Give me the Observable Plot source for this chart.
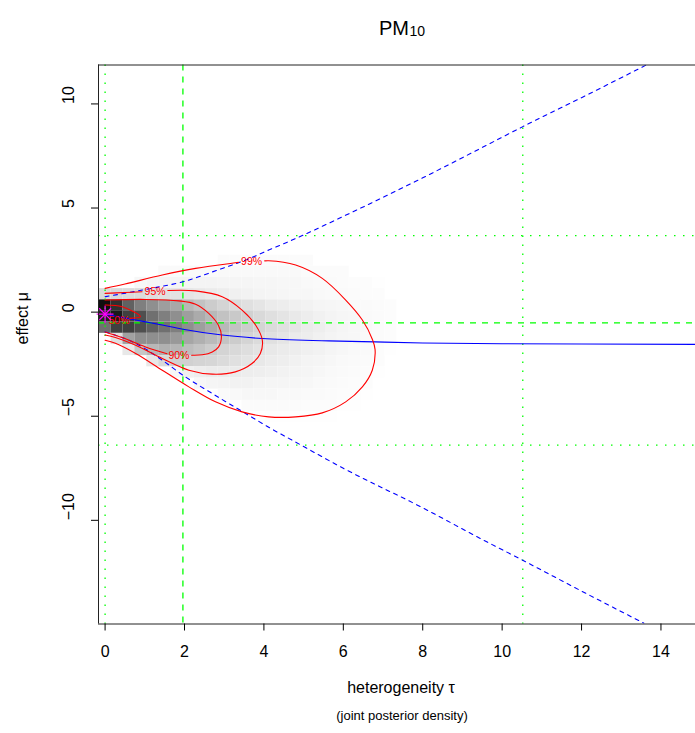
<!DOCTYPE html>
<html><head><meta charset="utf-8">
<script src="https://cdn.jsdelivr.net/npm/d3@7"></script>
<script src="https://cdn.jsdelivr.net/npm/@observablehq/plot@0.6"></script>
<style>body{margin:0;background:#fff} #chart svg{display:block}</style>
</head><body><div id="chart"></div>
<script>
// ---------- data ----------
const xTicks = [0, 2, 4, 6, 8, 10, 12, 14];
const yTicks = [-10, -5, 0, 5, 10];
const xDomain = [-0.166, 14.87];
const yDomain = [-14.98, 11.87];

// density image grid (cell centres) and grey lightness (% white)
const tauCenters = [0, 0.3, 0.6, 0.9, 1.2, 1.5, 1.8, 2.1, 2.4, 2.7, 3.0, 3.3, 3.6, 3.9, 4.2, 4.5, 4.8, 5.1, 5.4, 5.7, 6.0, 6.3, 6.6, 6.9, 7.2];
const muCenters = [2.47, 1.94, 1.40, 0.86, 0.32, -0.21, -0.75, -1.29, -1.82, -2.36, -2.90, -3.43, -3.97, -4.51, -5.05];
const tauStep = 0.3, muStep = 0.537;
const lightness = [
  [100,100,100,100,100,100,100,100,100,100,98.5,98.5,98.5,98.5,98.5,98.5,98.5,98.5,100,100,100,100,100,100,100],
  [100,100,100,100,100,98,98,98,98,98,97.5,97.5,97.5,97.5,97.5,97.5,97.5,98.5,98.5,98.5,98.5,100,100,100,100],
  [100,100,100,97,96,95.5,95.5,95.5,95.5,95.5,96,96,96,96.5,96.5,97,97,97.5,98,98,98.5,99,99,99.5,100],
  [85,85,86,86,87,88,89,90,91,92,93,94,95,95.5,96,96.5,97,97,97.5,98,98,98.5,99,99,100],
  [6,19,38,50,56,62,66,72,76,80,83,86,88,90,92,93,94,95,96,96.5,97,97.5,98,98.5,99],
  [13,10,25,31,44,50,56,62,67,72,76,79,82,85,87.5,89.5,91.5,93,94.5,95.5,96.5,97,98,98.5,99],
  [44,25,25,31,38,44,50,56,62,67,72,76,80,83,86,88,90,92,93.5,95,96,97,97.5,98.5,99],
  [100,88,63,56,56,56,60,65,69,73,77,80,83,86,88,90,92,93,94.5,95.5,96.5,97,98,98.5,99],
  [100,100,91,78,72,69,71,74,77,80,83,85,87,89,91,92,93,94,95,96,97,97.5,98,99,99.5],
  [100,100,100,100,91,85,82,82,83,84,86,88,89.5,91,92.5,93.5,94.5,95.5,96,97,97.5,98,98.5,99,100],
  [100,100,100,100,100,100,97,94,93,92,92,92,93,93.5,94,95,95.5,96,97,97.5,98,98.5,99,99.5,100],
  [100,100,100,100,100,100,100,100,97,96,95.5,95,95,95.5,96,96,96.5,97,97.5,98,98.5,99,99,100,100],
  [100,100,100,100,100,100,100,100,100,100,98,97.5,97,97,97,97.5,97.5,98,98,98.5,99,99,99.5,100,100],
  [100,100,100,100,100,100,100,100,100,100,100,100,98.5,98.5,98.5,98.5,98.5,99,99,99,99.5,99.5,100,100,100],
  [100,100,100,100,100,100,100,100,100,100,100,100,100,100,99.5,99.5,99.5,99.5,99.5,99.5,100,100,100,100,100]
];

// conditional mean of mu given tau (blue solid) and 95% bounds (blue dashed)
const meanTau = [0, 0.77, 1.44, 1.96, 2.95, 3.96, 5.63, 6.81, 8, 10, 12, 15];
const meanMu  = [-0.1, -0.38, -0.62, -0.82, -1.1, -1.27, -1.38, -1.43, -1.48, -1.52, -1.53, -1.55];
const upperTau = [0, 1.02, 1.96, 2.95, 3.54, 4.12, 4.71, 6, 8, 9.46, 10.52, 12, 13.63];
const upperMu  = [0.74, 1.09, 1.46, 2.1, 2.5, 2.98, 3.46, 4.6, 6.45, 7.87, 8.91, 10.3, 11.87];
const lowerTau = [0, 0.77, 1.44, 1.96, 2.7, 3.54, 4.25, 4.71, 6, 8, 9.54, 10.52, 12, 13.57];
const lowerMu  = [-0.95, -1.5, -2.31, -3.03, -3.91, -4.87, -5.67, -6.15, -7.5, -9.4, -10.96, -11.92, -13.4, -14.94];

// green reference lines
const vDotted = [0, 10.52];
const vDashed = [1.96];
const hDotted = [3.67, -6.39];
const hDashed = [-0.52];

// contours (null = gap for the label)
const c99 = [[0,1.14],[0.5,1.35],[1.44,1.78],[2.28,2.1],[3.28,2.37],[3.36,2.39],[null,null],[4.02,2.46],[4.12,2.47],[4.8,2.26],[5.47,1.62],[6.06,0.58],[6.48,-0.38],[6.73,-1.3],[6.8,-1.8],[6.73,-2.79],[6.48,-3.59],[6.06,-4.31],[5.47,-4.84],[4.8,-5.03],[4.12,-5.03],[3.45,-4.79],[2.78,-4.31],[2.11,-3.59],[1.44,-2.79],[0.77,-1.99],[0.26,-1.5],[0,-1.35]];
const c95 = [[0,0.9],[0.5,0.94],[0.93,0.98],[null,null],[1.58,1.04],[2.28,1.02],[2.95,0.74],[3.45,0.1],[3.79,-0.62],[3.96,-1.35],[3.91,-1.99],[3.7,-2.47],[3.28,-2.87],[2.7,-2.98],[2.11,-2.79],[1.44,-2.23],[0.77,-1.59],[0.26,-1.22],[0,-1.1]];
const c90 = [[0,0.58],[1.02,0.61],[1.86,0.54],[2.28,0.38],[2.61,-0.06],[2.85,-0.62],[2.93,-1.15],[2.86,-1.67],[2.7,-1.91],[2.45,-2.05],[2.18,-2.07],[null,null],[1.56,-2.0],[1.02,-1.67],[0.43,-1.22],[0,-0.95]];
const c50 = [[0,0.34],[0.43,0.26],[0.89,-0.22],[0.62,-0.3]];
const contourLabels = [
  {tau: 3.69, mu: 2.42, text: "99%"},
  {tau: 1.26, mu: 0.98, text: "95%"},
  {tau: 1.86, mu: -2.07, text: "90%"},
  {tau: 0.35, mu: -0.42, text: "50%"}
];
const mode = [{tau: 0, mu: -0.1}];

// ---------- build ----------
const cells = [];
muCenters.forEach((m, i) => tauCenters.forEach((t, j) => {
  const L = lightness[i][j];
  if (L < 100) { const v = Math.round(L * 2.55); cells.push({tau: t, mu: m, fill: `rgb(${v},${v},${v})`}); }
}));
const pts = (xs, ys) => xs.map((x, i) => ({tau: x, mu: ys[i]}));
const cpts = c => c.map(([t, m]) => ({tau: t, mu: m}));
const font = "'Liberation Sans', Arial, Helvetica, sans-serif";
const green = "#00FF00";

const chart = Plot.plot({
  width: 695, height: 733,
  marginLeft: 98, marginRight: 0, marginTop: 64.5, marginBottom: 109.5,
  x: {domain: xDomain},
  y: {domain: yDomain},
  style: {fontFamily: font, background: "white", color: "black", overflow: "visible"},
  marks: [
    Plot.rect(cells, {x1: d => d.tau - tauStep / 2, x2: d => d.tau + tauStep / 2, y1: d => d.mu - muStep / 2, y2: d => d.mu + muStep / 2, fill: "fill"}),
    Plot.ruleX(vDotted, {x: d => d, stroke: green, strokeWidth: 1.3, strokeDasharray: "1.5,7.5"}),
    Plot.ruleX(vDashed, {x: d => d, stroke: green, strokeWidth: 1.3, strokeDasharray: "6,6"}),
    Plot.ruleY(hDotted, {y: d => d, stroke: green, strokeWidth: 1.3, strokeDasharray: "1.5,7.5"}),
    Plot.ruleY(hDashed, {y: d => d, stroke: green, strokeWidth: 1.3, strokeDasharray: "6,6"}),
    Plot.line(pts(meanTau, meanMu), {x: "tau", y: "mu", stroke: "blue", strokeWidth: 1.1, curve: "monotone-x", clip: true}),
    Plot.line(pts(upperTau, upperMu), {x: "tau", y: "mu", stroke: "blue", strokeWidth: 1.1, strokeDasharray: "4,4.5", curve: "monotone-x", clip: true}),
    Plot.line(pts(lowerTau, lowerMu), {x: "tau", y: "mu", stroke: "blue", strokeWidth: 1.1, strokeDasharray: "4,4.5", curve: "monotone-x", clip: true}),
    ...[c99, c95, c90, c50].map(c => Plot.line(cpts(c), {x: "tau", y: "mu", stroke: "red", strokeWidth: 1.1, curve: "catmull-rom"})),
    Plot.text(contourLabels, {x: "tau", y: "mu", text: "text", fill: "red", fontSize: 10.5}),
    Plot.dot(mode, {x: "tau", y: "mu", symbol: "plus", r: 5.5, stroke: "#FF00FF", strokeWidth: 1.2}),
    Plot.dot(mode, {x: "tau", y: "mu", symbol: "times", r: 5.5, stroke: "#FF00FF", strokeWidth: 1.2}),
    // frame (top, left, bottom)
    Plot.ruleY([yDomain[1]], {y: d => d, stroke: "#222", strokeWidth: 1}),
    Plot.ruleY([yDomain[0]], {y: d => d, stroke: "#222", strokeWidth: 1}),
    Plot.ruleX([xDomain[0]], {x: d => d, stroke: "#222", strokeWidth: 1}),
    // axes
    Plot.axisX({ticks: xTicks, tickSize: 7, tickFormat: () => "", label: null, stroke: "black"}),
    Plot.axisY({ticks: yTicks, tickSize: 7, tickFormat: () => "", label: null, stroke: "black"}),
    Plot.text(xTicks, {x: d => d, frameAnchor: "bottom", dy: 33, text: d => String(d), fontSize: 16, fill: "black"}),
    Plot.text(yTicks, {y: d => d, frameAnchor: "left", dx: -30, rotate: -90, text: d => (d < 0 ? "\u2212" + (-d) : String(d)), fontSize: 16, fill: "black"}),
    Plot.text(["heterogeneity \u03c4"], {frameAnchor: "bottom", dx: 4, dy: 69, text: d => d, fontSize: 16, fill: "black"}),
    Plot.text(["(joint posterior density)"], {frameAnchor: "bottom", dx: 5, dy: 96, text: d => d, fontSize: 13, fill: "black"}),
    Plot.text(["effect \u03bc"], {frameAnchor: "left", dx: -76, rotate: -90, text: d => d, fontSize: 16, fill: "black"}),
    Plot.text(["PM"], {frameAnchor: "top", dx: 12, dy: -44, textAnchor: "end", text: d => d, fontSize: 20, fill: "black"}),
    Plot.text(["10"], {frameAnchor: "top", dx: 12.5, dy: -39, textAnchor: "start", text: d => d, fontSize: 14, fill: "black"})
  ]
});
document.getElementById("chart").appendChild(chart);
</script>
</body></html>
